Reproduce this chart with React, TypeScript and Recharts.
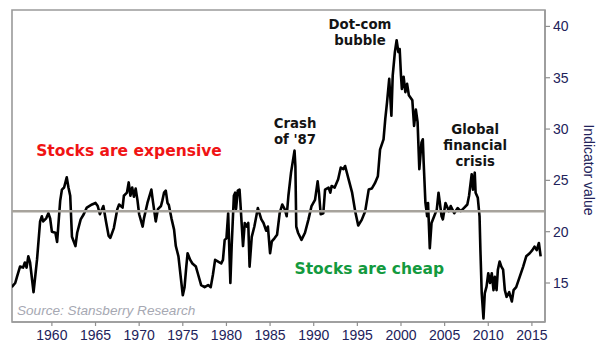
import React from 'react';
import { LineChart, Line, XAxis, YAxis, ReferenceLine, ReferenceDot, ReferenceArea } from 'recharts';

const years = [
  1955.4, 1955.8, 1956.0, 1956.35, 1956.7, 1956.9, 1957.1, 1957.3, 1957.5, 1957.9,
  1958.3, 1958.65, 1958.85, 1959.0, 1959.35, 1959.6, 1959.8, 1960.0, 1960.4, 1960.6,
  1960.95, 1961.15, 1961.4, 1961.7, 1961.9, 1962.1, 1962.3, 1962.7, 1962.9, 1963.3,
  1963.65, 1964.0, 1964.6, 1965.0, 1965.25, 1965.5, 1965.9, 1966.2, 1966.5, 1966.7,
  1967.1, 1967.5, 1967.7, 1968.1, 1968.25, 1968.6, 1968.8, 1969.0, 1969.2, 1969.4,
  1969.6, 1969.8, 1970.0, 1970.4, 1970.55, 1970.95, 1971.4, 1971.6, 1971.9, 1972.15,
  1972.5, 1972.65, 1972.85, 1973.05, 1973.25, 1973.4, 1973.7, 1974.0, 1974.2, 1974.5,
  1974.8, 1975.0, 1975.2, 1975.4, 1975.55, 1975.85, 1976.1, 1976.5, 1976.7, 1977.1,
  1977.5, 1977.9, 1978.2, 1978.45, 1978.7, 1979.0, 1979.4, 1979.6, 1979.8, 1980.0,
  1980.2, 1980.45, 1980.6, 1980.85, 1981.0, 1981.1, 1981.3, 1981.5, 1981.6, 1981.9,
  1982.1, 1982.3, 1982.5, 1982.65, 1982.9, 1983.2, 1983.6, 1984.0, 1984.25, 1984.55,
  1984.75, 1985.0, 1985.2, 1985.5, 1985.8, 1986.1, 1986.4, 1986.7, 1986.9, 1987.1,
  1987.4, 1987.8, 1987.9, 1988.0, 1988.2, 1988.6, 1989.0, 1989.4, 1989.75, 1990.15,
  1990.45, 1990.6, 1990.8, 1991.1, 1991.3, 1991.7, 1991.9, 1992.05, 1992.4, 1992.8,
  1993.1, 1993.4, 1993.6, 1994.0, 1994.4, 1994.75, 1995.1, 1995.5, 1995.9, 1996.3,
  1996.65, 1997.0, 1997.35, 1997.6, 1998.0, 1998.2, 1998.4, 1998.65, 1998.9, 1999.05,
  1999.3, 1999.5, 1999.7, 1999.85, 2000.0, 2000.1, 2000.3, 2000.5, 2000.7, 2000.9,
  2001.3, 2001.5, 2001.7, 2001.9, 2002.1, 2002.35, 2002.5, 2002.6, 2002.8, 2003.0,
  2003.1, 2003.3, 2003.5, 2003.8, 2004.1, 2004.3, 2004.65, 2004.8, 2005.1, 2005.5,
  2005.7, 2006.1, 2006.5, 2006.85, 2007.2, 2007.6, 2007.8, 2008.1, 2008.25, 2008.45,
  2008.55, 2008.8, 2009.0, 2009.1, 2009.25, 2009.45, 2009.6, 2009.8, 2010.0, 2010.2,
  2010.4, 2010.6, 2010.75, 2010.95, 2011.1, 2011.3, 2011.5, 2011.7, 2011.9, 2012.1,
  2012.4, 2012.7, 2012.9, 2013.2, 2013.6, 2014.0, 2014.35, 2014.75, 2015.05, 2015.3,
  2015.55, 2015.8, 2016.0,
];

const values = [
  14.6, 15.0, 15.6, 16.6, 16.5, 17.0, 16.5, 17.6, 17.0, 14.1,
  17.3, 21.0, 21.5, 21.0, 21.3, 21.8, 21.3, 20.0, 19.9, 19.0,
  23.0, 24.1, 24.3, 25.3, 24.3, 23.5, 19.5, 18.6, 19.9, 21.2,
  21.7, 22.35, 22.65, 22.8, 22.5, 21.7, 22.5, 21.0, 19.6, 19.4,
  20.35, 22.2, 22.65, 22.35, 23.5, 23.8, 24.8, 23.5, 24.3, 23.4,
  24.2, 23.1, 21.7, 20.5, 21.3, 22.8, 24.1, 22.8, 21.0, 22.2,
  22.5, 23.0, 23.8, 24.0, 22.8, 22.6, 21.3, 20.2, 18.6, 17.6,
  15.3, 13.8, 14.6, 16.6, 17.9, 17.25, 16.9, 16.6, 16.0, 14.8,
  14.6, 14.8, 14.6, 15.8, 17.25, 17.1, 16.9, 17.25, 19.2, 19.35,
  21.8, 15.0, 18.6, 23.5, 23.8, 22.2, 24.0, 24.1, 22.8, 18.6,
  20.85, 20.5, 20.85, 16.6, 19.5, 20.5, 22.3, 21.2, 20.85, 20.1,
  20.5, 17.9, 19.05, 19.35, 19.7, 21.8, 22.65, 22.15, 21.5, 23.5,
  25.75, 27.9, 26.4, 20.5, 19.9, 19.2, 19.9, 21.2, 22.5, 23.1,
  24.9, 23.8, 21.7, 21.8, 24.1, 24.3, 23.8, 24.45, 24.3, 25.1,
  26.25, 26.1, 26.4, 25.1, 23.8, 22.0, 20.6, 21.15, 22.0, 24.1,
  24.2, 24.7, 25.4, 28.0, 29.0, 31.0, 32.6, 34.9, 31.3, 35.2,
  37.5, 38.65, 37.5, 37.8, 35.2, 33.9, 35.1, 33.6, 34.4, 33.3,
  32.8, 30.3, 31.9, 30.7, 26.1, 28.7, 29.0, 26.7, 22.8, 21.5,
  22.8, 18.4, 20.85, 21.5, 22.15, 23.8, 21.5, 21.2, 22.8, 22.0,
  22.5, 21.8, 22.3, 22.0, 22.3, 22.65, 23.5, 25.6, 24.1, 25.75,
  23.8, 23.3, 21.5, 18.2, 14.0, 11.55, 14.0, 14.65, 15.95, 15.0,
  15.95, 14.3, 15.6, 14.3, 16.3, 17.1, 16.6, 16.3, 14.3, 13.65,
  14.1, 13.2, 14.3, 14.6, 15.6, 16.6, 17.6, 17.9, 18.2, 18.55,
  18.2, 18.9, 17.6,
];

const xTicks = [1960, 1965, 1970, 1975, 1980, 1985, 1990, 1995, 2000, 2005, 2010, 2015];
const yTicks = [15, 20, 25, 30, 35, 40];
const thresholdValue = 22;

const annotationLines = [
  ['Stocks are expensive'],
  ['Stocks are cheap'],
  ['Crash', "of '87"],
  ['Dot-com', 'bubble'],
  ['Global', 'financial', 'crisis'],
  ['Source: Stansberry Research'],
];
const annotationYears = [1958.2, 1987.8, 1987.86, 1995.3, 2008.5, 1956.0];
const annotationValues = [27.35, 15.9, 30.15, 39.75, 29.5, 11.86];

const annotationStyles = [
  { fill: '#f01414', fontSize: 15.5, fontWeight: 700, anchor: 'start', family: 'DejaVu Sans', italic: false },
  { fill: '#139a3e', fontSize: 15.5, fontWeight: 700, anchor: 'start', family: 'DejaVu Sans', italic: false },
  { fill: '#141414', fontSize: 13.3, fontWeight: 700, anchor: 'middle', family: 'DejaVu Sans', italic: false },
  { fill: '#141414', fontSize: 13.3, fontWeight: 700, anchor: 'middle', family: 'DejaVu Sans', italic: false },
  { fill: '#141414', fontSize: 13.3, fontWeight: 700, anchor: 'middle', family: 'DejaVu Sans', italic: false },
  { fill: '#a6a8b2', fontSize: 13.6, fontWeight: 400, anchor: 'start', family: 'Liberation Sans', italic: true },
];

const data = years.map((y, i) => ({ year: y, value: values[i] }));

const xDomain: [number, number] = [1955.43, 2016.5];
const yDomain: [number, number] = [11.2, 41.6];

const tickStyle = { fontFamily: 'Liberation Sans, Arial, sans-serif', fontSize: 14, fill: '#22225a' };

function makeAnnotationShape(idx: number) {
  const st = annotationStyles[idx];
  const lines = annotationLines[idx];
  return (props: any) => {
    const cx = props.cx;
    const cy = props.cy;
    return (
      <text
        x={cx}
        y={cy}
        textAnchor={st.anchor as any}
        fill={st.fill}
        fontSize={st.fontSize}
        fontWeight={st.fontWeight}
        fontStyle={st.italic ? 'italic' : 'normal'}
        fontFamily={st.family}
      >
        {lines.map((l, i) => (
          <tspan key={i} x={cx} dy={i === 0 ? 0 : 16}>
            {l}
          </tspan>
        ))}
      </text>
    );
  };
}

export default function App() {
  return (
    <div style={{ position: 'absolute', left: 0, top: 0, background: '#fff' }}>
      <LineChart
        width={599}
        height={355}
        data={data}
        margin={{ top: 10, right: 0, bottom: 0, left: 12 }}
        style={{ fontFamily: 'Liberation Sans, Arial, sans-serif' }}
      >
        <XAxis
          xAxisId="b"
          dataKey="year"
          type="number"
          domain={xDomain}
          allowDataOverflow
          ticks={xTicks}
          interval={0}
          height={33}
          tickSize={4}
          tickMargin={4}
          tick={tickStyle}
          tickLine={{ stroke: '#8f8f8f', strokeWidth: 1.2 }}
          axisLine={{ stroke: '#9a9a9a', strokeWidth: 1.6 }}
        />
        <YAxis
          yAxisId="r"
          orientation="right"
          type="number"
          domain={yDomain}
          allowDataOverflow
          ticks={yTicks}
          interval={0}
          width={54}
          tickSize={5}
          tickMargin={3}
          tick={tickStyle}
          tickLine={{ stroke: '#8f8f8f', strokeWidth: 1.2 }}
          axisLine={{ stroke: '#9a9a9a', strokeWidth: 1.6 }}
          label={{
            value: 'Indicator value',
            angle: 90,
            position: 'center',
            dx: 17,
            dy: 4,
            style: { fontFamily: 'Liberation Sans, Arial, sans-serif', fontSize: 14, fill: '#22225a' },
          }}
        />
        <ReferenceArea
          xAxisId="b"
          yAxisId="r"
          x1={xDomain[0]}
          x2={xDomain[1]}
          y1={yDomain[0]}
          y2={yDomain[1]}
          fill="none"
          fillOpacity={0}
          stroke="#9a9a9a"
          strokeWidth={1.6}
          ifOverflow="visible"
        />
        <Line
          xAxisId="b"
          yAxisId="r"
          type="linear"
          dataKey="value"
          stroke="#000"
          strokeWidth={2.6}
          strokeLinejoin="round"
          dot={false}
          activeDot={false}
          isAnimationActive={false}
        />
        <ReferenceLine
          xAxisId="b"
          yAxisId="r"
          y={thresholdValue}
          stroke="#a7a39c"
          strokeWidth={2.5}
        />
        {annotationLines.map((_, i) => (
          <ReferenceDot
            key={i}
            xAxisId="b"
            yAxisId="r"
            x={annotationYears[i]}
            y={annotationValues[i]}
            r={0}
            ifOverflow="visible"
            shape={makeAnnotationShape(i)}
          />
        ))}
      </LineChart>
    </div>
  );
}
